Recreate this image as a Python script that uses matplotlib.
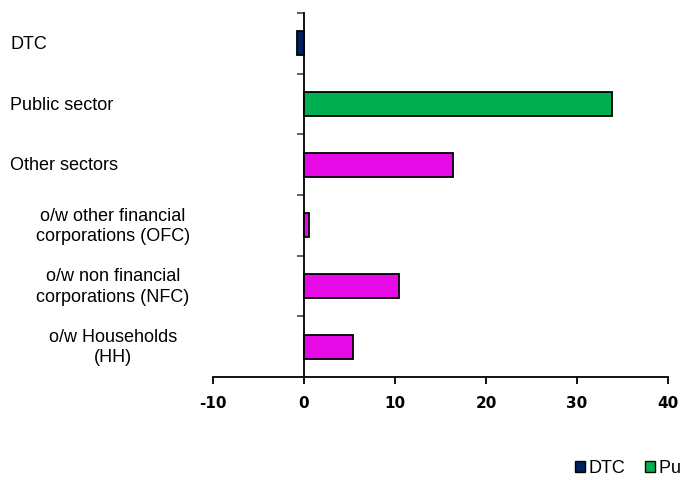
import matplotlib.pyplot as plt
from matplotlib.patches import Patch
from matplotlib.transforms import blended_transform_factory

plt.rcParams['font.family'] = ['Liberation Sans', 'DejaVu Sans']

categories = ["DTC", "Public sector", "Other sectors",
              "o/w other financial\ncorporations (OFC)",
              "o/w non financial\ncorporations (NFC)",
              "o/w Households\n(HH)"]
values = [-0.8, 33.9, 16.4, 0.6, 10.4, 5.4]
groups = ["DTC", "Public sector", "Other sectors", "Other sectors", "Other sectors", "Other sectors"]
legend_names = ["DTC", "Public sector", "Other sectors"]
group_colors = {"DTC": "#002060", "Public sector": "#00B050", "Other sectors": "#E60AE6"}
xticks = [-10, 0, 10, 20, 30, 40]

fig = plt.figure(figsize=(6.81, 4.81), dpi=100)
ax = fig.add_axes([213/681, 1 - 378/481, (668 - 213)/681, (378 - 14)/481])

pos = list(range(len(categories)))
ax.barh(pos, values, height=0.4, color=[group_colors[g] for g in groups],
        edgecolor='black', linewidth=1.3, zorder=3)

ax.set_xlim(-10, 40)
ax.set_ylim(len(categories) - 0.5, -0.5)
ax.set_xticks(xticks)
ax.set_xticklabels([str(t) for t in xticks], fontweight='bold', fontsize=11,
                   family='DejaVu Sans')
ax.tick_params(axis='x', direction='out', length=5, width=1.3, pad=8)

for s in ['top', 'right']:
    ax.spines[s].set_visible(False)
ax.spines['left'].set_position(('data', 0))
ax.spines['left'].set_linewidth(1.3)
ax.spines['bottom'].set_linewidth(1.3)

ax.set_yticks([p - 0.5 for p in pos])
ax.set_yticklabels([])
ax.tick_params(axis='y', direction='out', length=5, width=1.3, color='#555555')

trans = blended_transform_factory(fig.transFigure, ax.transData)
for p, lab in zip(pos, categories):
    if "\n" in lab:
        ax.text(113/681, p, lab, transform=trans, ha='center', va='center',
                fontsize=13, multialignment='center', linespacing=1.25)
    else:
        ax.text(10/681, p, lab, transform=trans, ha='left', va='center', fontsize=13)

handles = [Patch(facecolor=group_colors[n], edgecolor='black', linewidth=1) for n in legend_names]
fig.legend(handles, legend_names, loc='center left', bbox_to_anchor=(566/681, 1 - 469/481),
           ncol=3, frameon=False, fontsize=13, handlelength=0.55, handleheight=0.55,
           handletextpad=0.2, columnspacing=1.1, borderpad=0)

fig.savefig('out.png', dpi=100)
